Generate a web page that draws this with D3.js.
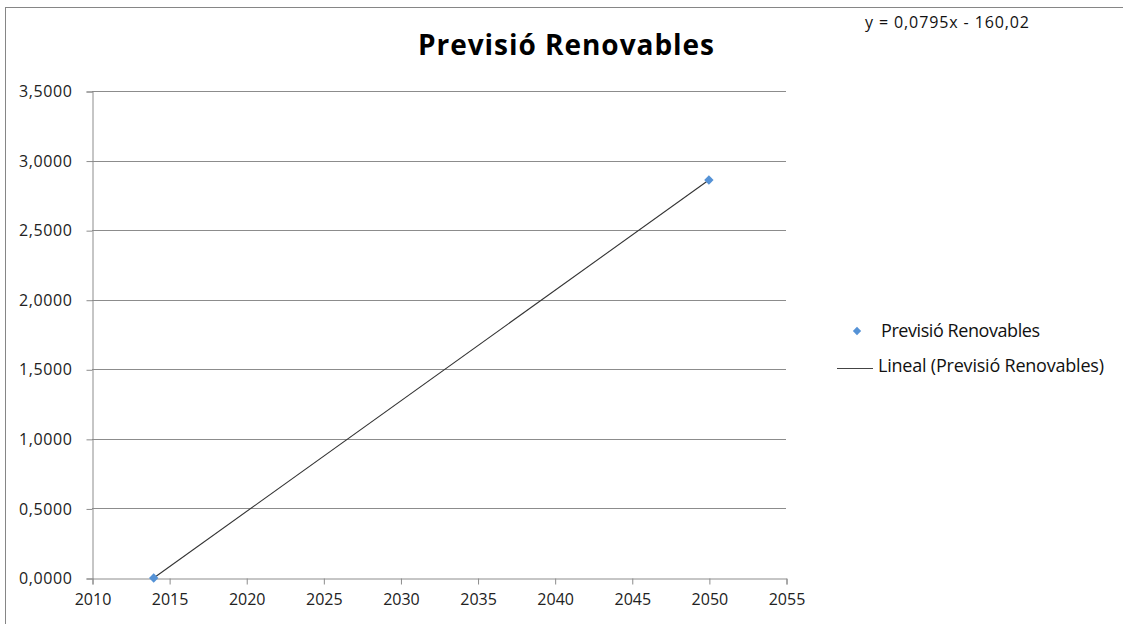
<!DOCTYPE html>
<html>
<head>
<meta charset="utf-8">
<script src="https://cdn.jsdelivr.net/npm/d3@7"></script>
<style>
  html, body { margin: 0; padding: 0; background: #fff; }
  svg { display: block; }
</style>
</head>
<body>
<svg id="chart" width="1123" height="624"></svg>
<script>
// Forecast series: year and renewable value
const years = [2014, 2050];
const values = [0, 2.8603];
const xTicks = [2010, 2015, 2020, 2025, 2030, 2035, 2040, 2045, 2050, 2055];
const yTicks = [0, 0.5, 1, 1.5, 2, 2.5, 3, 3.5];
const titleText = "Previsió Renovables";
const seriesName = "Previsió Renovables";
const trendName = "Lineal (Previsió Renovables)";

const svg = d3.select("#chart");
const W = 1123, H = 624;
const gridColor = "#8c8c8c";
const markColor = "#5592d6";
const font = "'Open Sans', Lato, sans-serif";

// outer chart frame
svg.append("rect")
  .attr("x", 5.5).attr("y", 7.5)
  .attr("width", W + 10).attr("height", H + 10)
  .attr("fill", "#fff").attr("stroke", "#868686").attr("stroke-width", 1);

const plot = { left: 92, right: 786, top: 91, bottom: 578 };

const x = d3.scaleLinear().domain([2010, 2055]).range([plot.left, plot.right]);
const y = d3.scaleLinear().domain([0, 3.5]).range([plot.bottom, plot.top]);

const fmtY = v => d3.format(".4f")(v).replace(".", ",");

// horizontal gridlines
svg.append("g").selectAll("line").data(yTicks.filter(d => d > 0)).join("line")
  .attr("x1", plot.left).attr("x2", plot.right)
  .attr("y1", d => Math.round(y(d)) + 0.5).attr("y2", d => Math.round(y(d)) + 0.5)
  .attr("stroke", gridColor).attr("stroke-width", 1);

// y axis
const yAxis = svg.append("g")
  .attr("transform", `translate(${plot.left + 0.5},0.5)`)
  .call(d3.axisLeft(y).tickValues(yTicks).tickFormat(fmtY).tickSize(6).tickPadding(14));
yAxis.select(".domain").attr("stroke", gridColor);
yAxis.selectAll(".tick line").attr("stroke", gridColor);
yAxis.selectAll("text").attr("font-family", font).attr("font-size", 16)
  .attr("letter-spacing", 0.6).attr("fill", "#222");

// x axis
const xAxis = svg.append("g")
  .attr("transform", `translate(0.5,${plot.bottom + 0.5})`)
  .call(d3.axisBottom(x).tickValues(xTicks).tickFormat(d3.format("d")).tickSize(6).tickPadding(9));
xAxis.select(".domain").attr("stroke", gridColor);
xAxis.selectAll(".tick line").attr("stroke", gridColor);
xAxis.selectAll("text").attr("font-family", font).attr("font-size", 16).attr("fill", "#222");

// least-squares linear trend
const mx = d3.mean(years), my = d3.mean(values);
const slope = d3.sum(years.map((xv, i) => (xv - mx) * (values[i] - my))) /
              d3.sum(years.map(xv => (xv - mx) ** 2));
const intercept = my - slope * mx;
const tx = d3.extent(years);
svg.append("line")
  .attr("x1", x(tx[0])).attr("y1", y(slope * tx[0] + intercept))
  .attr("x2", x(tx[1])).attr("y2", y(slope * tx[1] + intercept))
  .attr("stroke", "#333").attr("stroke-width", 1.1);

// data markers
const diamond = d3.symbol().type(d3.symbolDiamond2).size(56);
svg.append("g").selectAll("path").data(years.map((yr, i) => [yr, values[i]])).join("path")
  .attr("d", diamond)
  .attr("transform", d => `translate(${x(d[0])},${y(d[1])})`)
  .attr("fill", markColor);

// title
svg.append("text")
  .attr("x", 418).attr("y", 55)
  .attr("font-family", font).attr("font-weight", "bold").attr("font-size", 28)
  .attr("textLength", 296).attr("lengthAdjust", "spacing")
  .attr("fill", "#000").text(titleText);

// trend equation
const eq = "y = " + d3.format(".4f")(slope).replace(".", ",") +
  "x " + (intercept < 0 ? "- " : "+ ") + d3.format(".2f")(Math.abs(intercept)).replace(".", ",");
svg.append("text")
  .attr("x", 865).attr("y", 28)
  .attr("font-family", font).attr("font-size", 16)
  .attr("textLength", 164).attr("lengthAdjust", "spacing")
  .attr("fill", "#111").text(eq);

// legend
const lg = svg.append("g");
lg.append("path")
  .attr("d", d3.symbol().type(d3.symbolDiamond2).size(44))
  .attr("transform", "translate(857,331)")
  .attr("fill", markColor);
lg.append("text").attr("x", 881).attr("y", 337)
  .attr("font-family", font).attr("font-size", 18)
  .attr("textLength", 159).attr("lengthAdjust", "spacing")
  .attr("fill", "#111").text(seriesName);
lg.append("line").attr("x1", 837).attr("x2", 873).attr("y1", 368.5).attr("y2", 368.5)
  .attr("stroke", "#444").attr("stroke-width", 1);
lg.append("text").attr("x", 878).attr("y", 372)
  .attr("font-family", font).attr("font-size", 18)
  .attr("textLength", 226).attr("lengthAdjust", "spacing")
  .attr("fill", "#111").text(trendName);
</script>
</body>
</html>
